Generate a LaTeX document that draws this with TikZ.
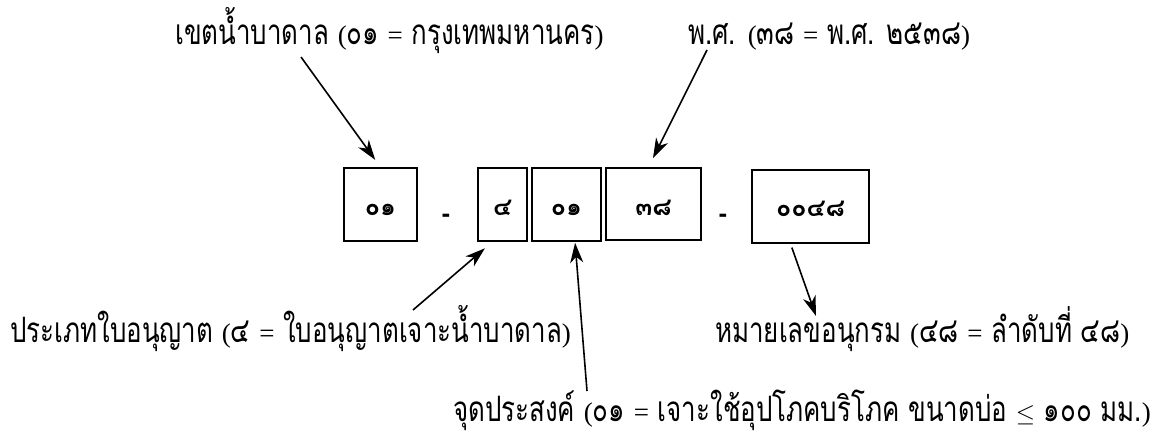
\documentclass[tikz,border=0pt]{standalone}
\usepackage{fontspec}
\newfontfamily\thai[Script=Thai,FakeStretch=0.74]{Loma}
\newfontfamily\thaid[Script=Thai]{Loma}
\newfontfamily\symfont{Liberation Sans}
\newfontfamily\serfont{Liberation Serif}
\newcommand\lat[1]{{\serfont\fontsize{27}{30}\selectfont #1}}
\newcommand\mylesseq{{\fontsize{30}{30}\selectfont$\leq$}}
\usetikzlibrary{arrows.meta}
\begin{document}
\begin{tikzpicture}[x=1pt,y=-1pt,
  box/.style={draw, line width=1.6pt, inner sep=0pt},
  lab/.style={font=\thai\fontsize{35}{40}\selectfont, inner sep=0pt, anchor=base west},
  dig/.style={font=\thaid\bfseries\fontsize{25}{28}\selectfont, inner sep=0pt, anchor=base},
  sepr/.style={font=\symfont\bfseries\fontsize{26}{28}\selectfont, inner sep=0pt, anchor=base},
  arr/.style={line width=1.6pt, -{Stealth[length=20pt,width=13pt,inset=6pt]}}]
\useasboundingbox[fill=white] (0,0) rectangle (1161,436);
% boxes
\node[box, minimum width=73pt, minimum height=73pt] (b1) at (380.5,204.5) {};
\node[box, minimum width=49pt, minimum height=73pt] (b2) at (502.5,204.5) {};
\node[box, minimum width=69pt, minimum height=73pt] (b3) at (566.5,204.5) {};
\node[box, minimum width=95pt, minimum height=72pt] (b4) at (653.5,204) {};
\node[box, minimum width=117pt, minimum height=73pt] (b5) at (810.5,206.5) {};
% digits in boxes
\node[dig] (d1) at (380.5,215) {๐๑};
\node[dig] (d2) at (502.5,215) {๔};
\node[dig] (d3) at (566.5,215) {๐๑};
\node[dig] (d4) at (653.5,215) {๓๘};
\node[dig] (d5) at (810.5,216) {๐๐๔๘};
% separators
\node[sepr] (m1) at (446,222) {-};
\node[sepr] (m2) at (723,222) {-};
% labels
\node[lab] (ltl) at (175,45) {เขตน้ำบาดาล \lat{(}๐๑ \lat{=} กรุงเทพมหานคร\lat{)}};
\node[lab] (ltr) at (688,45) {พ.ศ. \lat{(}๓๘ \lat{=} พ.ศ. ๒๕๓๘\lat{)}};
\node[lab] (lbl) at (10,342) {ประเภทใบอนุญาต \lat{(}๔ \lat{=} ใบอนุญาตเจาะน้ำบาดาล\lat{)}};
\node[lab] (lbr) at (715,342) {หมายเลขอนุกรม \lat{(}๔๘ \lat{=} ลำดับที่ ๔๘\lat{)}};
\node[lab] (lbm) at (453,421) {จุดประสงค์ \lat{(}๐๑ \lat{=} เจาะใช้อุปโภคบริโภค ขนาดบ่อ \mylesseq{} ๑๐๐ มม.\lat{)}};
% arrow ends
\coordinate (t1) at (301,57);
\coordinate (t2) at (707,50);
\coordinate (t3) at (413,310);
\coordinate (t4) at (587,391);
\coordinate (h5) at (816,316);
% arrows
\draw[arr, shorten >=9pt] (t1) -- (b1.north);
\draw[arr, shorten >=10pt] (t2) -- ([xshift=-5pt]b4.north);
\draw[arr, shorten >=10pt] (t3) -- ([xshift=-10pt]b2.south);
\draw[arr, shorten >=1pt] (t4) -- ([xshift=8.5pt]b3.south);
\draw[arr, shorten <=4pt] ([xshift=-20pt]b5.south) -- (h5);
\end{tikzpicture}
\end{document}
